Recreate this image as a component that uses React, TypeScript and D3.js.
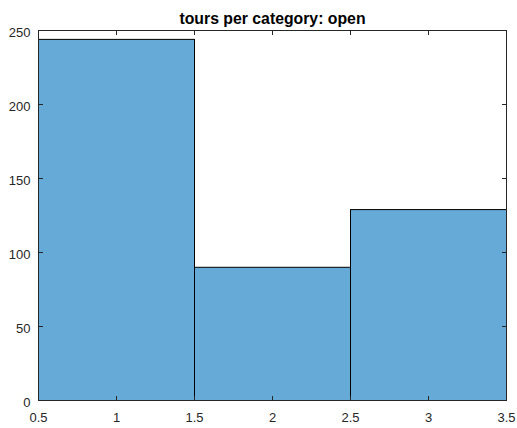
import React from "react";
import * as d3 from "d3";

const binEdges = [0.5, 1.5, 2.5, 3.5];
const counts = [244, 90, 129];
const xTicks = [0.5, 1, 1.5, 2, 2.5, 3, 3.5];
const yTicks = [0, 50, 100, 150, 200, 250];
const title = "tours per category: open";

export default function App() {
  const W = 517, H = 428;
  const L = 38.5, R = 506.5, T = 30.5, B = 400.5;
  const x = d3.scaleLinear().domain([0.5, 3.5]).range([L, R]);
  const y = d3.scaleLinear().domain([0, 250]).range([B, T]);
  const axisColor = "#262626";
  const font = "'Liberation Sans', Arial, Helvetica, sans-serif";
  const tl = 4.5;
  return (
    <svg width={W} height={H} style={{ position: "absolute", left: 0, top: 0, background: "#fff" }}>
      <rect x={0} y={0} width={W} height={H} fill="#fff" />
      {counts.map((c, i) => (
        <rect key={i} x={x(binEdges[i])} y={y(c)} width={x(binEdges[i + 1]) - x(binEdges[i])} height={y(0) - y(c)}
          fill="#66AAD7" stroke="#000" strokeWidth={1} />
      ))}
      <rect x={L} y={T} width={R - L} height={B - T} fill="none" stroke={axisColor} strokeWidth={1} />
      {xTicks.map((t, i) => (
        <g key={"x" + i}>
          <line x1={x(t)} x2={x(t)} y1={B} y2={B - tl} stroke={axisColor} />
          <line x1={x(t)} x2={x(t)} y1={T} y2={T + tl} stroke={axisColor} />
          <text x={x(t)} y={B + 21} fontSize={13} fontFamily={font} fill={axisColor} textAnchor="middle">{String(t)}</text>
        </g>
      ))}
      {yTicks.map((t, i) => (
        <g key={"y" + i}>
          <line x1={L} x2={L + tl} y1={y(t)} y2={y(t)} stroke={axisColor} />
          <line x1={R} x2={R - tl} y1={y(t)} y2={y(t)} stroke={axisColor} />
          <text x={L - 8} y={y(t) + 6} fontSize={13} fontFamily={font} fill={axisColor} textAnchor="end">{String(t)}</text>
        </g>
      ))}
      <text x={(L + R) / 2} y={T - 6.5} fontSize={15.8} fontWeight="bold" fontFamily={font} fill="#000" textAnchor="middle">{title}</text>
    </svg>
  );
}
